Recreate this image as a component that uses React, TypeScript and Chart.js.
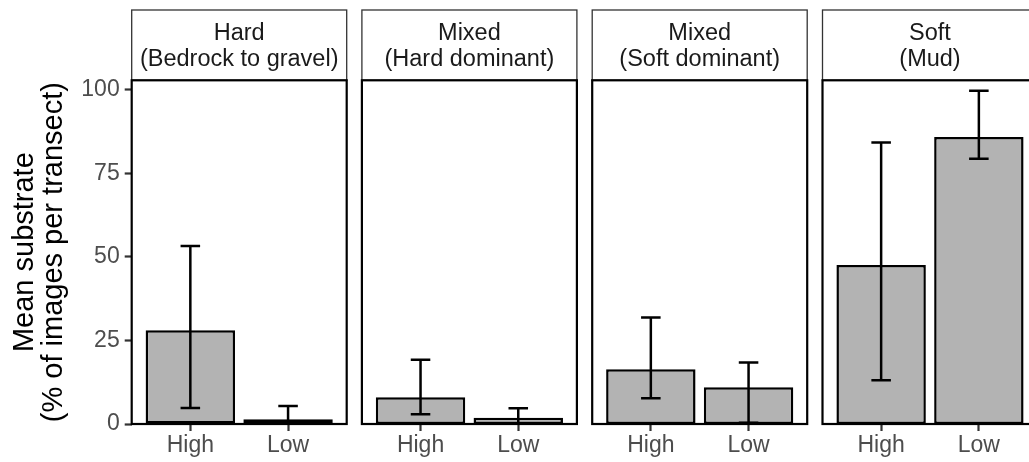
import React, { useEffect, useRef } from "react";
import { Chart, registerables } from "chart.js";

Chart.register(...registerables);

// ---- data ----
const categories = ["High", "Low"];
const categoryPositions = [1, 2];
const facetLabels = [
  ["Hard", "(Bedrock to gravel)"],
  ["Mixed", "(Hard dominant)"],
  ["Mixed", "(Soft dominant)"],
  ["Soft", "(Mud)"],
];
const meanHard = [28.1, 1.4];
const lowerHard = [4.8, -2.6];
const upperHard = [53.3, 5.4];
const meanMixedHard = [8.0, 1.9];
const lowerMixedHard = [2.9, -0.9];
const upperMixedHard = [19.2, 4.7];
const meanMixedSoft = [16.4, 11.0];
const lowerMixedSoft = [7.7, 0.4];
const upperMixedSoft = [31.9, 18.4];
const meanSoft = [47.6, 85.9];
const lowerSoft = [13.1, 79.4];
const upperSoft = [84.3, 99.8];
const yTicks = [0, 25, 50, 75, 100];
const yTitle = ["Mean substrate", "(% of images per transect)"];

const means = [meanHard, meanMixedHard, meanMixedSoft, meanSoft];
const lowers = [lowerHard, lowerMixedHard, lowerMixedSoft, lowerSoft];
const uppers = [upperHard, upperMixedHard, upperMixedSoft, upperSoft];

// ---- layout ----
const CW = 1045;
const CH = 462;
const PANEL_TOP = 80.3;
const PANEL_BOTTOM = 424;
const STRIP_TOP = 10;
const PANEL_W = 215;
const PANEL_LEFTS = [131.7, 361.9, 592.2, 822.5];
const Y_MAX = 102.9;
const FONT = "'Liberation Sans', Arial, Helvetica, sans-serif";

function makeChart(canvas: HTMLCanvasElement, i: number) {
  const left = PANEL_LEFTS[i];
  const isFirst = i === 0;
  const facetPlugin = {
    id: "facet" + i,
    afterDatasetsDraw(chart: any) {
      const { ctx, chartArea } = chart;
      const xs = chart.scales.x;
      const ys = chart.scales.y;
      // error bars
      ctx.save();
      ctx.beginPath();
      ctx.rect(chartArea.left, chartArea.top, chartArea.right - chartArea.left, chartArea.bottom - chartArea.top);
      ctx.clip();
      ctx.strokeStyle = "#000";
      ctx.lineWidth = 2.5;
      ctx.lineCap = "butt";
      for (let k = 0; k < categoryPositions.length; k++) {
        const p = categoryPositions[k];
        const x = xs.getPixelForValue(p);
        const xl = xs.getPixelForValue(p - 0.1);
        const xr = xs.getPixelForValue(p + 0.1);
        const yl = ys.getPixelForValue(lowers[i][k]);
        const yu = ys.getPixelForValue(uppers[i][k]);
        ctx.beginPath();
        ctx.moveTo(x, yl);
        ctx.lineTo(x, yu);
        ctx.moveTo(xl, yl);
        ctx.lineTo(xr, yl);
        ctx.moveTo(xl, yu);
        ctx.lineTo(xr, yu);
        ctx.stroke();
      }
      ctx.restore();
      // strip
      ctx.save();
      ctx.fillStyle = "#fff";
      ctx.strokeStyle = "#333333";
      ctx.lineWidth = 1.3;
      ctx.fillRect(chartArea.left, STRIP_TOP, chartArea.right - chartArea.left, chartArea.top - STRIP_TOP);
      ctx.strokeRect(chartArea.left, STRIP_TOP, chartArea.right - chartArea.left, chartArea.top - STRIP_TOP);
      ctx.fillStyle = "#1A1A1A";
      ctx.font = `23.5px ${FONT}`;
      ctx.textAlign = "center";
      ctx.textBaseline = "middle";
      const cx = (chartArea.left + chartArea.right) / 2;
      const mid = (STRIP_TOP + chartArea.top) / 2 + 1.5;
      const lines = facetLabels[i];
      const lh = 26;
      lines.forEach((t, j) => {
        ctx.fillText(t, cx, mid + (j - (lines.length - 1) / 2) * lh);
      });
      // panel border
      ctx.strokeStyle = "#000";
      ctx.lineWidth = 2.2;
      ctx.strokeRect(chartArea.left, chartArea.top, chartArea.right - chartArea.left, chartArea.bottom - chartArea.top);
      ctx.restore();
    },
  };

  return new Chart(canvas, {
    type: "bar",
    data: {
      datasets: [
        {
          data: categoryPositions.map((p, k) => ({ x: p, y: means[i][k] })),
          backgroundColor: "#B3B3B3",
          borderColor: "#000",
          borderWidth: 2.5,
          borderSkipped: false,
          barPercentage: 0.915,
          categoryPercentage: 1,
        },
      ],
    },
    options: {
      animation: false,
      responsive: false,
      devicePixelRatio: 1,
      events: [],
      layout: {
        padding: {
          top: PANEL_TOP,
          bottom: 0,
          left: isFirst ? 0 : left,
          right: CW - (left + PANEL_W),
        },
      },
      plugins: { legend: { display: false }, tooltip: { enabled: false }, title: { display: false } },
      scales: {
        x: {
          type: "linear",
          min: 0.4,
          max: 2.6,
          offset: false,
          afterBuildTicks: (scale: any) => {
            scale.ticks = categoryPositions.map((v) => ({ value: v }));
          },
          afterFit: (scale: any) => {
            scale.height = CH - PANEL_BOTTOM;
          },
          ticks: {
            autoSkip: false,
            maxRotation: 0,
            padding: 1,
            color: "#4D4D4D",
            font: { family: FONT, size: 23 },
            callback: (v: any) => {
              const idx = categoryPositions.indexOf(Number(v));
              return idx >= 0 ? categories[idx] : "";
            },
          },
          grid: { offset: false, drawOnChartArea: false, tickLength: 7, tickWidth: 2.2, tickColor: "#333333" },
          border: { display: false },
        },
        y: {
          display: isFirst,
          min: 0,
          max: Y_MAX,
          afterBuildTicks: (scale: any) => {
            scale.ticks = yTicks.map((v) => ({ value: v }));
          },
          afterFit: (scale: any) => {
            scale.width = isFirst ? left : 0;
          },
          ticks: {
            padding: 5,
            color: "#4D4D4D",
            font: { family: FONT, size: 23 },
          },
          grid: { drawOnChartArea: false, tickLength: 7, tickWidth: 2.2, tickColor: "#333333" },
          border: { display: false },
          title: {
            display: true,
            text: yTitle,
            color: "#000",
            font: { family: FONT, size: 29, lineHeight: 1.02 },
            padding: { top: 9.8, bottom: 0 },
          },
        },
      },
    },
    plugins: [facetPlugin],
  } as any);
}

function Panel({ index }: { index: number }) {
  const ref = useRef<HTMLCanvasElement | null>(null);
  useEffect(() => {
    if (!ref.current) return;
    const c = makeChart(ref.current, index);
    return () => c.destroy();
  }, [index]);
  return (
    <canvas
      ref={ref}
      width={CW}
      height={CH}
      style={{ position: "absolute", left: 0, top: 0, width: CW, height: CH }}
    />
  );
}

export default function App() {
  return (
    <div
      style={{
        position: "fixed",
        left: 0,
        top: 0,
        width: 1029,
        height: 462,
        overflow: "hidden",
        background: "#fff",
      }}
    >
      {facetLabels.map((_, i) => (
        <Panel key={i} index={i} />
      ))}
    </div>
  );
}
